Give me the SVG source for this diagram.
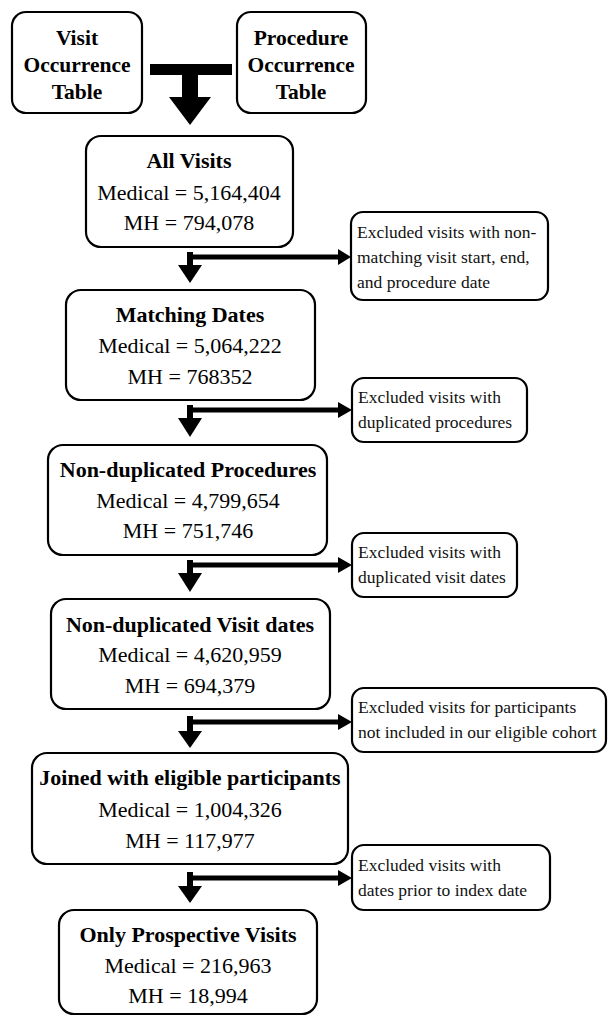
<svg xmlns="http://www.w3.org/2000/svg" width="609" height="1016" viewBox="0 0 609 1016">
<style>
  .box { fill: #ffffff; stroke: #000000; stroke-width: 2.2; }
  .t { font-family: "Liberation Serif", "Times New Roman", serif; fill: #000000; text-anchor: middle; }
  .title { font-size: 22px; font-weight: bold; }
  .num { font-size: 22px; }
  .top { font-size: 21.5px; font-weight: bold; }
  .side { font-family: "Liberation Serif", "Times New Roman", serif; font-size: 17.5px; fill: #111111; }
  .ln { stroke: #000000; fill: none; }
  .stem { stroke-width: 6; }
  .hz { stroke-width: 5; }
  .head { fill: #000000; }
</style>
<rect width="609" height="1016" fill="#ffffff"/>

<g id="visit-occurrence">
  <rect class="box" x="12" y="12" width="130" height="101" rx="14"/>
  <text class="t top" x="77" y="45">Visit</text>
  <text class="t top" x="77" y="72">Occurrence</text>
  <text class="t top" x="77" y="99">Table</text>
</g>
<g id="procedure-occurrence">
  <rect class="box" x="237" y="12" width="129" height="101" rx="14"/>
  <text class="t top" x="301" y="45">Procedure</text>
  <text class="t top" x="301" y="72">Occurrence</text>
  <text class="t top" x="301" y="99">Table</text>
</g>

<g id="all-visits">
  <rect class="box" x="86" y="136" width="207" height="111" rx="15"/>
  <text class="t title" x="189" y="168">All Visits</text>
  <text class="t num" x="189" y="200">Medical = 5,164,404</text>
  <text class="t num" x="189" y="230">MH = 794,078</text>
</g>
<g id="matching-dates">
  <rect class="box" x="66" y="290" width="249" height="110" rx="15"/>
  <text class="t title" x="190" y="322">Matching Dates</text>
  <text class="t num" x="190" y="353">Medical = 5,064,222</text>
  <text class="t num" x="190" y="384">MH = 768352</text>
</g>
<g id="non-dup-procedures">
  <rect class="box" x="48" y="445" width="279" height="110" rx="15"/>
  <text class="t title" x="188" y="477">Non-duplicated Procedures</text>
  <text class="t num" x="188" y="508">Medical = 4,799,654</text>
  <text class="t num" x="188" y="538">MH = 751,746</text>
</g>
<g id="non-dup-visit-dates">
  <rect class="box" x="51" y="599" width="279" height="110" rx="15"/>
  <text class="t title" x="190" y="632">Non-duplicated Visit dates</text>
  <text class="t num" x="190" y="662">Medical = 4,620,959</text>
  <text class="t num" x="190" y="693">MH = 694,379</text>
</g>
<g id="joined-eligible">
  <rect class="box" x="32" y="753" width="316" height="111" rx="15"/>
  <text class="t title" x="190" y="785">Joined with eligible participants</text>
  <text class="t num" x="190" y="817">Medical = 1,004,326</text>
  <text class="t num" x="190" y="848">MH = 117,977</text>
</g>
<g id="only-prospective">
  <rect class="box" x="59" y="910" width="258" height="104" rx="15"/>
  <text class="t title" x="188" y="942">Only Prospective Visits</text>
  <text class="t num" x="188" y="973">Medical = 216,963</text>
  <text class="t num" x="188" y="1003">MH = 18,994</text>
</g>

<g id="excl-1">
  <rect class="box" x="351" y="212" width="197" height="88" rx="12"/>
  <text class="side" x="357" y="238">Excluded visits with non-</text>
  <text class="side" x="357" y="263">matching visit start, end,</text>
  <text class="side" x="357" y="288">and procedure date</text>
</g>
<g id="excl-2">
  <rect class="box" x="352" y="378" width="175" height="64" rx="12"/>
  <text class="side" x="358" y="403">Excluded visits with</text>
  <text class="side" x="358" y="428">duplicated procedures</text>
</g>
<g id="excl-3">
  <rect class="box" x="352" y="533" width="165" height="64" rx="12"/>
  <text class="side" x="358" y="558">Excluded visits with</text>
  <text class="side" x="358" y="583">duplicated visit dates</text>
</g>
<g id="excl-4">
  <rect class="box" x="352" y="688" width="254" height="64" rx="12"/>
  <text class="side" x="358" y="713">Excluded visits for participants</text>
  <text class="side" x="358" y="738">not included in our eligible cohort</text>
</g>
<g id="excl-5">
  <rect class="box" x="352" y="845" width="198" height="65" rx="12"/>
  <text class="side" x="358" y="871">Excluded visits with</text>
  <text class="side" x="358" y="896">dates prior to index date</text>
</g>

<g id="connectors">
  <!-- merge T -->
  <rect class="head" x="150" y="64" width="82" height="11"/>
  <rect class="head" x="182" y="74" width="16" height="24"/>
  <polygon class="head" points="169,97 211,97 190,125"/>

  <!-- 1 -->
  <line class="ln stem" x1="190" y1="252" x2="190" y2="266"/>
  <polygon class="head" points="178,265 202,265 190,283"/>
  <line class="ln hz" x1="188" y1="257" x2="340" y2="257"/>
  <polygon class="head" points="338,249 351,257 338,265"/>

  <!-- 2 -->
  <line class="ln stem" x1="190" y1="405" x2="190" y2="419"/>
  <polygon class="head" points="178,418 202,418 190,437"/>
  <line class="ln hz" x1="188" y1="410" x2="340" y2="410"/>
  <polygon class="head" points="338,402 352,410 338,418"/>

  <!-- 3 -->
  <line class="ln stem" x1="190" y1="560" x2="190" y2="574"/>
  <polygon class="head" points="178,573 202,573 190,592"/>
  <line class="ln hz" x1="188" y1="565" x2="340" y2="565"/>
  <polygon class="head" points="338,557 352,565 338,573"/>

  <!-- 4 -->
  <line class="ln stem" x1="190" y1="716" x2="190" y2="732"/>
  <polygon class="head" points="178,731 202,731 190,748"/>
  <line class="ln hz" x1="188" y1="722" x2="340" y2="722"/>
  <polygon class="head" points="338,714 352,722 338,730"/>

  <!-- 5 -->
  <line class="ln stem" x1="190" y1="872" x2="190" y2="887"/>
  <polygon class="head" points="178,886 202,886 190,903"/>
  <line class="ln hz" x1="188" y1="878" x2="340" y2="878"/>
  <polygon class="head" points="338,870 352,878 338,886"/>
</g>
</svg>
